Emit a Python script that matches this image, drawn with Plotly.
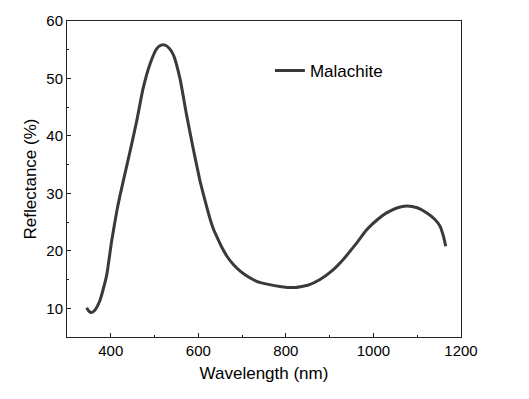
import plotly.graph_objects as go

wavelength = [345, 350, 356, 363, 375, 383, 391, 402, 413, 421, 429, 444, 459, 474, 490, 505,
              515, 524, 533, 543, 558, 573, 588, 604, 611, 619, 627, 634, 642, 653, 665, 680,
              695, 711, 733, 757, 790, 817, 850, 878, 905, 931, 960, 985, 1010, 1030, 1055,
              1076, 1100, 1122, 1140, 1152, 1160, 1165]
reflectance = [10.1, 9.5, 9.25, 9.6, 11.3, 13.4, 15.9, 21.7, 26.6, 29.6, 32.3, 37.3, 42.5, 48.3, 52.6, 55.2,
               55.8, 55.8, 55.3, 54.1, 50.0, 43.7, 37.9, 32.1, 30.0, 27.7, 25.5, 23.9, 22.5, 20.7, 19.1, 17.6,
               16.5, 15.6, 14.7, 14.2, 13.75, 13.6, 14.0, 15.0, 16.5, 18.5, 21.2, 23.7, 25.5, 26.6, 27.5,
               27.8, 27.5, 26.6, 25.5, 24.3, 22.5, 20.8]
x_ticks = [400, 600, 800, 1000, 1200]
y_ticks = [10, 20, 30, 40, 50, 60]

fig = go.Figure()
fig.add_trace(go.Scatter(
    x=wavelength, y=reflectance, mode="lines", name="Malachite",
    line=dict(color="#3a3a3a", width=3, shape="spline", smoothing=0.5),
))

font = "Liberation Sans, Arial, sans-serif"
axis_common = dict(
    showline=True, linecolor="#222", linewidth=1, mirror=True,
    ticks="inside", ticklen=4, tickcolor="#222", tickwidth=1,
    showgrid=False, zeroline=False, automargin=False,
    tickfont=dict(family=font, size=15, color="black"),
)
fig.update_xaxes(range=[300, 1200], tickvals=x_ticks,
                 minor=dict(ticks="inside", ticklen=2, dtick=100, tick0=300, tickcolor="#222"),
                 title=dict(text="Wavelength (nm)", font=dict(family=font, size=17, color="black"), standoff=9),
                 **axis_common)
fig.update_yaxes(range=[5, 60], tickvals=y_ticks,
                 minor=dict(ticks="inside", ticklen=2, dtick=5, tick0=5, tickcolor="#222"),
                 title=dict(text="Reflectance (%)", font=dict(family=font, size=17, color="black"), standoff=5),
                 **axis_common)
fig.update_layout(
    width=521, height=391,
    margin=dict(l=59, r=68, t=13, b=62),
    plot_bgcolor="white", paper_bgcolor="white",
    showlegend=True,
    legend=dict(x=0.515, y=0.842, xanchor="left", yanchor="middle", bgcolor="rgba(0,0,0,0)",
                font=dict(family=font, size=17, color="black"), itemwidth=30),
)
fig.write_html("out.html")
